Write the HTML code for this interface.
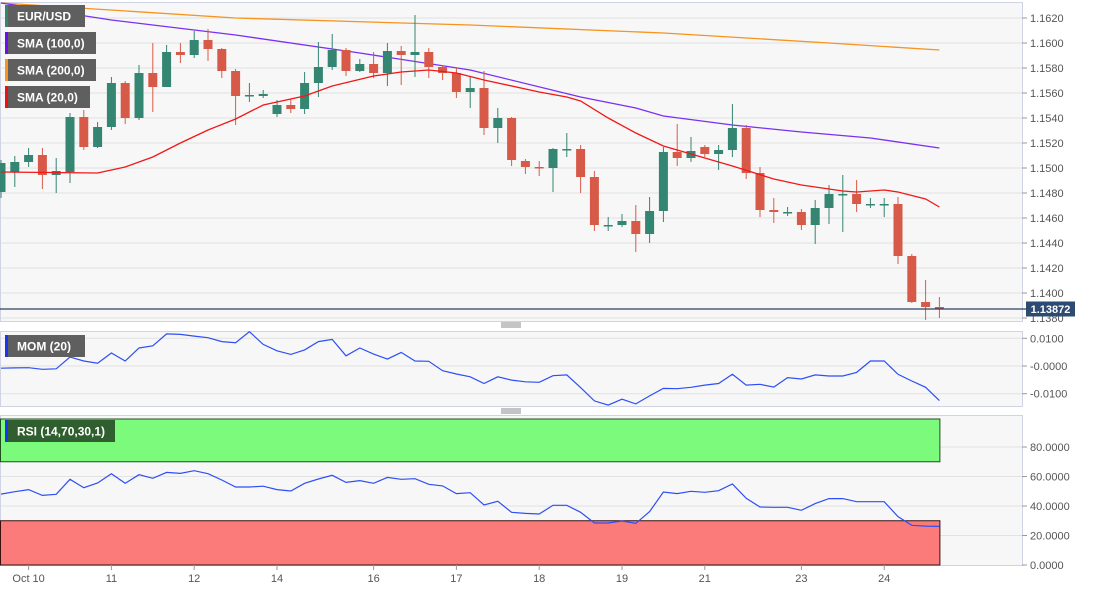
<!DOCTYPE html>
<html><head><meta charset="utf-8">
<style>
html,body{margin:0;padding:0;background:#fff;}
svg{display:block;font-family:"Liberation Sans",Arial,sans-serif;}
.ax{font-size:11px;fill:#555;}
.lg{font-size:12px;font-weight:bold;fill:#fff;}
</style></head>
<body>
<svg id="chart" width="1093" height="592" viewBox="0 0 1093 592" xmlns="http://www.w3.org/2000/svg">
<g id="bg"></g>
<g id="grid"></g>
<g id="bands"></g>
<g id="marks"></g>
<g id="axes"></g>
<g id="legend"></g>
</svg>
<script>
// ---------- data ----------
const opens  = [1.14808,1.14968,1.15048,1.15104,1.14944,1.14968,1.15408,1.15168,1.15328,1.15680,1.15400,1.15760,1.15648,1.15928,1.15904,1.16024,1.15952,1.15776,1.15576,1.15576,1.15432,1.15504,1.15472,1.15680,1.15808,1.15944,1.15776,1.15832,1.15760,1.15936,1.15904,1.15928,1.15808,1.15760,1.15608,1.15640,1.15320,1.15400,1.15056,1.15008,1.15000,1.15152,1.15152,1.14928,1.14544,1.14544,1.14576,1.14472,1.14656,1.15128,1.15080,1.15168,1.15112,1.15144,1.15320,1.14960,1.14664,1.14648,1.14648,1.14544,1.14680,1.14792,1.14792,1.14712,1.14712,1.14712,1.14296,1.13928,1.13888];
const closes = [1.15040,1.15048,1.15104,1.14944,1.14976,1.15408,1.15168,1.15328,1.15680,1.15400,1.15760,1.15648,1.15928,1.15904,1.16024,1.15952,1.15776,1.15576,1.15584,1.15592,1.15504,1.15472,1.15680,1.15808,1.15944,1.15776,1.15832,1.15760,1.15936,1.15904,1.15928,1.15808,1.15760,1.15608,1.15640,1.15320,1.15400,1.15064,1.15008,1.15000,1.15152,1.15152,1.14928,1.14544,1.14544,1.14576,1.14472,1.14656,1.15128,1.15080,1.15136,1.15112,1.15144,1.15320,1.14960,1.14664,1.14648,1.14648,1.14544,1.14680,1.14792,1.14792,1.14712,1.14712,1.14712,1.14296,1.13928,1.13888,1.13872];
const highs  = [1.15064,1.15096,1.15160,1.15160,1.15080,1.15440,1.15464,1.15368,1.15728,1.15696,1.15824,1.16000,1.15984,1.16000,1.16096,1.16112,1.15960,1.15792,1.15680,1.15624,1.15544,1.15552,1.15768,1.16008,1.16072,1.15960,1.15872,1.15928,1.16000,1.15976,1.16224,1.15960,1.15824,1.15800,1.15728,1.15776,1.15480,1.15408,1.15072,1.15056,1.15160,1.15280,1.15184,1.14976,1.14608,1.14632,1.14704,1.14768,1.15168,1.15352,1.15248,1.15184,1.15184,1.15512,1.15344,1.15008,1.14760,1.14688,1.14672,1.14744,1.14864,1.14944,1.14904,1.14760,1.14760,1.14768,1.14312,1.14104,1.13968];
const lows   = [1.14760,1.14848,1.15008,1.14832,1.14800,1.14880,1.15144,1.15160,1.15304,1.15352,1.15384,1.15448,1.15648,1.15840,1.15880,1.15856,1.15720,1.15344,1.15528,1.15560,1.15408,1.15440,1.15432,1.15568,1.15784,1.15736,1.15768,1.15720,1.15656,1.15664,1.15728,1.15720,1.15704,1.15560,1.15480,1.15264,1.15200,1.15016,1.14952,1.14936,1.14808,1.15088,1.14800,1.14496,1.14496,1.14528,1.14328,1.14400,1.14568,1.15016,1.15048,1.15088,1.14984,1.15088,1.14912,1.14608,1.14560,1.14616,1.14504,1.14392,1.14552,1.14488,1.14648,1.14680,1.14608,1.14232,1.13920,1.13784,1.13800];
const sma200Idx = [0,17,34,48,60,68];
const sma200Val = [1.16320,1.16200,1.16144,1.16080,1.16000,1.15944];
const sma100Idx = [0,8,17,26,34,42,46,48,53,58,63,68];
const sma100Val = [1.16320,1.16184,1.16064,1.15920,1.15784,1.15568,1.15480,1.15416,1.15344,1.15288,1.15240,1.15160];
const sma20Idx = [0,7,9,11,13,15,17,19,22,24,27,29,31,33,35,39,41,42,44,46,48,51,53,56,58,61,62,64,65,67,68];
const sma20Val = [1.14968,1.14960,1.15008,1.15088,1.15200,1.15304,1.15392,1.15504,1.15576,1.15656,1.15736,1.15768,1.15784,1.15760,1.15704,1.15608,1.15568,1.15536,1.15400,1.15280,1.15176,1.15080,1.15016,1.14912,1.14864,1.14816,1.14808,1.14824,1.14808,1.14752,1.14688];
const momVals = [-0.0008,-0.0007,-0.0006,-0.0012,-0.0010,0.0032,0.0018,0.0010,0.0047,0.0018,0.0065,0.0073,0.0116,0.0114,0.0108,0.0102,0.0088,0.0084,0.0124,0.0078,0.0055,0.0042,0.0058,0.0088,0.0096,0.0037,0.0065,0.0043,0.0025,0.0049,0.0018,0.0017,-0.0017,-0.0029,-0.0039,-0.0063,-0.0039,-0.0051,-0.0057,-0.0059,-0.0035,-0.0032,-0.0078,-0.0126,-0.0141,-0.0120,-0.0137,-0.0108,-0.0081,-0.0082,-0.0077,-0.0069,-0.0063,-0.0030,-0.0069,-0.0066,-0.0076,-0.0042,-0.0047,-0.0032,-0.0036,-0.0036,-0.0023,0.0018,0.0018,-0.0030,-0.0054,-0.0077,-0.0125];
const rsiVals = [48.1,49.7,51.1,47.2,47.9,58.1,52.4,55.6,61.9,55.4,61.2,58.8,62.8,62.1,63.9,61.9,57.6,52.9,52.9,53.4,51.1,50.2,55.4,58.3,60.8,56.0,57.2,55.4,59.4,58.1,58.5,54.7,53.6,48.4,49.0,40.7,43.2,35.7,35.0,34.6,40.5,40.5,35.7,28.5,28.5,29.8,28.2,36.2,49.5,48.4,50.0,49.3,50.4,54.9,45.2,39.3,39.1,39.1,37.1,41.6,45.0,45.0,42.9,42.9,42.9,32.8,26.9,26.4,26.2];
const priceTicks = [1.1380,1.1400,1.1420,1.1440,1.1460,1.1480,1.1500,1.1520,1.1540,1.1560,1.1580,1.1600,1.1620];
const momTicks = [0.01,0,-0.01];
const momTickLabels = ["0.0100","-0.0000","-0.0100"];
const rsiTicks = [0,20,40,60,80];
const dateLabels = ["Oct 10","11","12","14","16","17","18","19","21","23","24"];
const dateIdx = [2,8,14,20,27,33,39,45,51,58,64];
const lastPrice = 1.13872;

// ---------- scales ----------
const PR = 1022; // panel right
const xOf = i => 1 + i*13.8;
const yP = p => 18 + (1.1620 - p)/0.002*25;
const yM = v => 366 - v/0.01*27.7;
const yR = v => 565 - v*1.475;
const NS = "http://www.w3.org/2000/svg";
function mk(parent, tag, attrs){const e=document.createElementNS(NS,tag);for(const k in attrs)e.setAttribute(k,attrs[k]);document.getElementById(parent).appendChild(e);return e;}

// panels
const panels=[["main-price-panel",2,321],["momentum-panel",331,406],["rsi-panel",415,565]];
panels.forEach(p=>{
  const r=mk("bg","rect",{x:0.5,y:p[1]+0.5,width:PR,height:p[2]-p[1],fill:"#f7f7f7",stroke:"#cfd3e3"});
  
  
});
// grid + axis labels
priceTicks.forEach(t=>{
  const y=yP(t);
  if(y>3&&y<321){const g=mk("grid","line",{x1:1,x2:PR,y1:y,y2:y,stroke:"#e2e2e2"});
  
  }
  mk("axes","line",{x1:PR,x2:PR+5,y1:y,y2:y,stroke:"#999"});
  const tx=mk("axes","text",{x:PR+8,y:y+4,class:"ax"});tx.textContent=t.toFixed(4);
  
  
});
momTicks.forEach((t,k)=>{
  const y=yM(t);
  mk("grid","line",{x1:1,x2:PR,y1:y,y2:y,stroke:"#e2e2e2"});
  mk("axes","line",{x1:PR,x2:PR+5,y1:y,y2:y,stroke:"#999"});
  const tx=mk("axes","text",{x:PR+8,y:y+4,class:"ax"});tx.textContent=momTickLabels[k];
  
  
});
rsiTicks.forEach(t=>{
  const y=yR(t);
  if(t>0) mk("grid","line",{x1:1,x2:PR,y1:y,y2:y,stroke:"#e2e2e2"});
  mk("axes","line",{x1:PR,x2:PR+5,y1:y,y2:y,stroke:"#999"});
  const tx=mk("axes","text",{x:PR+8,y:y+4,class:"ax"});tx.textContent=t.toFixed(4);
  
  
});
// rsi bands
const gb=mk("bands","rect",{x:0.5,y:yR(100)+1.5,width:xOf(68),height:yR(70)-yR(100)-1.5,fill:"#7cfa7c",stroke:"#1f4f1f"});


const rb=mk("bands","rect",{x:0.5,y:yR(30),width:xOf(68),height:yR(0)-yR(30),fill:"#fb7b7b",stroke:"#3a0f0f"});



// date axis
dateLabels.forEach((d,k)=>{
  const x=xOf(dateIdx[k]);
  mk("axes","line",{x1:x,x2:x,y1:565,y2:570,stroke:"#999"});
  const tx=mk("axes","text",{x:x,y:582,class:"ax","text-anchor":"middle"});tx.textContent=d;
  
  
});

// SMA lines
function line(idx,vals,color,name){
  const pts=idx.map((i,k)=>xOf(i).toFixed(1)+","+yP(vals[k]).toFixed(1)).join(" ");
  const l=mk("marks","polyline",{points:pts,fill:"none",stroke:color,"stroke-width":1.3});
  
  
}
line(sma200Idx,sma200Val,"#f7931e","sma-200-line");
line(sma100Idx,sma100Val,"#7b2ff2","sma-100-line");

// candles
opens.forEach((o,i)=>{
  const c=closes[i],h=highs[i],l=lows[i];
  const up=c>=o, col=up?"#348571":"#d75a48";
  const x=xOf(i);
  const w=mk("marks","line",{x1:x,x2:x,y1:yP(h),y2:yP(l),stroke:col,"stroke-width":1});
  
  
  const top=Math.min(yP(o),yP(c)),bh=Math.max(1.5,Math.abs(yP(o)-yP(c)));
  const b=mk("marks","rect",{x:x-4.5,y:top,width:9,height:bh,fill:col});
  
  
});
line(sma20Idx,sma20Val,"#f01818","sma-20-line");

// last price line + tag
const ly=yP(lastPrice);
const lp=mk("marks","line",{x1:0,x2:PR+4,y1:ly,y2:ly,stroke:"#2d3f5e","stroke-width":1.2});


const tag=mk("axes","rect",{x:PR+4,y:ly-7.5,width:49,height:15,fill:"#2d4a72"});


const tt=mk("axes","text",{x:PR+28.5,y:ly+4,"text-anchor":"middle",style:"font-size:11px;font-weight:bold;fill:#fff"});
tt.textContent=lastPrice.toFixed(5);



// MOM & RSI lines
const mp=mk("marks","polyline",{points:momVals.map((v,i)=>xOf(i).toFixed(1)+","+yM(v).toFixed(1)).join(" "),fill:"none",stroke:"#2d4ff5","stroke-width":1.2});


const rp=mk("marks","polyline",{points:rsiVals.map((v,i)=>xOf(i).toFixed(1)+","+yR(v).toFixed(1)).join(" "),fill:"none",stroke:"#2d4ff5","stroke-width":1.2});



// separators
[325,411].forEach(y=>{
  [0,2,4].forEach(d=>mk("axes","line",{x1:501,x2:521,y1:y-2+d,y2:y-2+d,stroke:"#888"}));
});

// legend
const legends=[["EUR/USD","#348571",5,80,"legend-eurusd","#5f5f5f"],["SMA (100,0)","#6a0ff0",32,91,"legend-sma-100","#5f5f5f"],["SMA (200,0)","#f7931e",59,91,"legend-sma-200","#5f5f5f"],["SMA (20,0)","#f01010",86,85,"legend-sma-20","#5f5f5f"],["MOM (20)","#1a35f0",335,80,"legend-momentum","#5f5f5f"],["RSI (14,70,30,1)","#1a35f0",420,110,"legend-rsi","#2f5f2f"]];
legends.forEach(L=>{
  const g=mk("legend","g",{});
  
  
  const r=document.createElementNS(NS,"rect");r.setAttribute("x",5);r.setAttribute("y",L[2]);r.setAttribute("width",L[3]);r.setAttribute("height",22);r.setAttribute("fill",L[5]);g.appendChild(r);
  const s=document.createElementNS(NS,"rect");s.setAttribute("x",5);s.setAttribute("y",L[2]);s.setAttribute("width",3);s.setAttribute("height",22);s.setAttribute("fill",L[1]);g.appendChild(s);
  const t=document.createElementNS(NS,"text");t.setAttribute("x",17);t.setAttribute("y",L[2]+15.5);t.setAttribute("class","lg");t.textContent=L[0];g.appendChild(t);
});
</script>
</body></html>
